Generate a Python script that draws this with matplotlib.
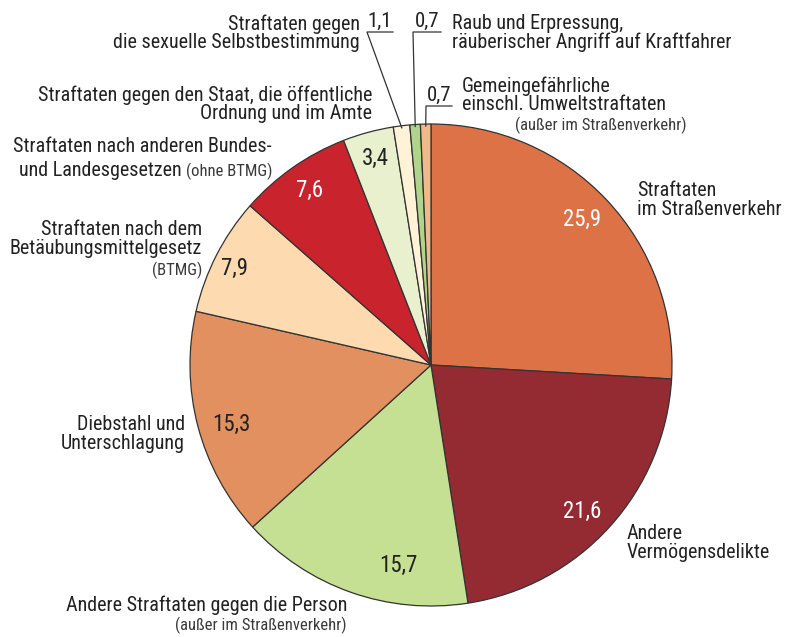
import numpy as np
import matplotlib
matplotlib.use('Agg')
import matplotlib.pyplot as plt

plt.rcParams['font.family'] = ['Roboto Condensed', 'DejaVu Sans']

# shares in percent, clockwise from 12 o'clock
values = [25.9, 21.6, 15.7, 15.3, 7.9, 7.6, 3.4, 1.1, 0.7, 0.7]
value_labels = ['25,9', '21,6', '15,7', '15,3', '7,9', '7,6', '3,4', '1,1', '0,7', '0,7']
colors = ['#DD7247', '#942B33', '#C5DF93', '#E29060', '#FDDAB0',
          '#C9242D', '#E8F0CD', '#FFF2D6', '#AFD58A', '#F0B98A']
value_colors = ['white', 'white', '#222222', '#222222', '#222222',
                'white', '#222222', '#222222', '#222222', '#222222']

W, H = 787, 637
CX, CY, R = 431, 365, 241
TXT = '#222222'
SUB = '#3a3a3a'


def Y(y):
    return H - y


fig = plt.figure(figsize=(W / 100, H / 100), dpi=100)
ax = fig.add_axes([0, 0, 1, 1])
wedges, _ = ax.pie(values, colors=colors, startangle=90, counterclock=False,
                   center=(CX, Y(CY)), radius=R,
                   wedgeprops=dict(edgecolor='#333333', linewidth=0.9))
ax.set_xlim(0, W)
ax.set_ylim(0, H)
ax.set_aspect('equal')
ax.axis('off')

fs = 14.5
fs_num = 16.5
small = 12
ls = 0.95

# values inside the big slices
inner_pos = [(582, 219), (582, 511), (398, 565), (231, 424), (235, 268), (310, 190), (375, 158)]
for i, (x, y) in enumerate(inner_pos):
    ax.text(x, Y(y), value_labels[i], color=value_colors[i], fontsize=fs_num,
            ha='center', va='center')

# category labels
ax.text(637, Y(200), 'Straftaten\nim Straßenverkehr', fontsize=fs, color=TXT,
        ha='left', va='center', linespacing=ls)
ax.text(627, Y(543), 'Andere\nVermögensdelikte', fontsize=fs, color=TXT,
        ha='left', va='center', linespacing=ls)
ax.text(347, Y(605), 'Andere Straftaten gegen die Person', fontsize=fs, color=TXT,
        ha='right', va='center')
ax.text(347, Y(625), '(außer im Straßenverkehr)', fontsize=small, color=SUB,
        ha='right', va='center')
ax.text(185, Y(434), 'Diebstahl und\nUnterschlagung', fontsize=fs, color=TXT,
        ha='right', va='center', linespacing=ls)
ax.text(202, Y(239), 'Straftaten nach dem\nBetäubungsmittelgesetz', fontsize=fs, color=TXT,
        ha='right', va='center', linespacing=ls)
ax.text(202, Y(270), '(BTMG)', fontsize=small, color=SUB, ha='right', va='center')
ax.text(272, Y(146), 'Straftaten nach anderen Bundes-', fontsize=fs, color=TXT,
        ha='right', va='center')
sub = ax.text(272, Y(171), '(ohne BTMG)', fontsize=small, color=SUB, ha='right', va='center')
fig.canvas.draw()
sub_w = sub.get_window_extent().width
ax.text(272 - sub_w - 4, Y(170), 'und Landesgesetzen', fontsize=fs, color=TXT,
        ha='right', va='center')
ax.text(372, Y(104), 'Straftaten gegen den Staat, die öffentliche\nOrdnung und im Amte',
        fontsize=fs, color=TXT, ha='right', va='center', linespacing=ls)
ax.text(360, Y(33), 'Straftaten gegen\ndie sexuelle Selbstbestimmung', fontsize=fs,
        color=TXT, ha='right', va='center', linespacing=ls)
ax.text(452, Y(33), 'Raub und Erpressung,\nräuberischer Angriff auf Kraftfahrer', fontsize=fs,
        color=TXT, ha='left', va='center', linespacing=ls)
ax.text(462, Y(95), 'Gemeingefährliche\neinschl. Umweltstraftaten', fontsize=fs, color=TXT,
        ha='left', va='center', linespacing=ls)
ax.text(687, Y(125), '(außer im Straßenverkehr)', fontsize=small, color=SUB,
        ha='right', va='center')

# small slices: value over an underline, leader down to the slice
leaders = [(7, 380, 21, 367, 393), (8, 427, 21, 413, 441), (9, 439, 95, 426, 452)]
for idx, tx, ty, x0, x1 in leaders:
    w = wedges[idx]
    mid = np.deg2rad((w.theta1 + w.theta2) / 2)
    ex = CX + (R - 2) * np.cos(mid)
    ey = Y(CY) + (R - 2) * np.sin(mid)
    ax.text(tx, Y(ty), value_labels[idx], fontsize=15, color=TXT, ha='center', va='center')
    ax.plot([x1, x0, ex], [Y(ty + 11), Y(ty + 11), ey], color='#333333', lw=0.9)

fig.savefig('out.png', dpi=100)
